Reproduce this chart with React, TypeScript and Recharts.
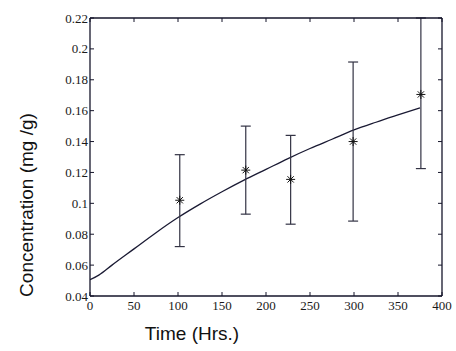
import React from 'react';
import { ComposedChart, XAxis, YAxis, Line, Scatter, ErrorBar } from 'recharts';

// Measured samples (time in hours, concentration in mg/g)
const sampleTimes = [102, 177, 228, 299, 376];
const sampleConc = [0.102, 0.1215, 0.1155, 0.14, 0.1705];
const sampleLow = [0.072, 0.093, 0.0865, 0.0885, 0.1225];
const sampleHigh = [0.1315, 0.15, 0.144, 0.1915, 0.22];

// Model curve
const fitTimes = [0, 10, 25, 50, 75, 100, 125, 150, 175, 200, 225, 250, 275, 300, 325, 350, 375];
const fitConc = [0.0505, 0.0535, 0.06, 0.0705, 0.081, 0.0908, 0.0995, 0.1075, 0.115, 0.122, 0.129, 0.1355, 0.1415, 0.1475, 0.1525, 0.1572, 0.1618];

const xTicks = [0, 50, 100, 150, 200, 250, 300, 350, 400];
const yTicks = [0.04, 0.06, 0.08, 0.1, 0.12, 0.14, 0.16, 0.18, 0.2, 0.22];
const yTickLabels = ['0.04', '0.06', '0.08', '0.1', '0.12', '0.14', '0.16', '0.18', '0.2', '0.22'];

const xTitle = 'Time (Hrs.)';
const yTitle = 'Concentration (mg /g)';

const ink = '#15152a';
const serif = '"Liberation Serif", "Times New Roman", serif';
const sans = '"Liberation Sans", Arial, sans-serif';

const sampleData = sampleTimes.map((t, i) => ({
  x: t,
  y: sampleConc[i],
  err: [sampleConc[i] - sampleLow[i], sampleHigh[i] - sampleConc[i]],
}));
const fitData = fitTimes.map((t, i) => ({ x: t, y: fitConc[i] }));

const yLabelOf = (v: number) => {
  const idx = yTicks.findIndex((t) => Math.abs(t - v) < 1e-9);
  return idx >= 0 ? yTickLabels[idx] : String(v);
};

const LeftTick = (props: any) => {
  const { x, y, payload } = props;
  return (
    <g>
      <line x1={x} y1={y} x2={x + 4} y2={y} stroke={ink} strokeWidth={1} />
      <text x={x - 2} y={y} dy={4.5} textAnchor="end" fontFamily={serif} fontSize={13} fill="#1a1a1a">
        {yLabelOf(payload.value)}
      </text>
    </g>
  );
};

const RightTick = (props: any) => {
  const { x, y } = props;
  return <line x1={x} y1={y} x2={x - 4} y2={y} stroke={ink} strokeWidth={1} />;
};

const BottomTick = (props: any) => {
  const { x, y, payload } = props;
  return (
    <g>
      <line x1={x} y1={y} x2={x} y2={y - 4} stroke={ink} strokeWidth={1} />
      <text x={x} y={y} dy={14} textAnchor="middle" fontFamily={serif} fontSize={13} fill="#1a1a1a">
        {payload.value}
      </text>
    </g>
  );
};

const TopTick = (props: any) => {
  const { x, y } = props;
  return <line x1={x} y1={y} x2={x} y2={y + 4} stroke={ink} strokeWidth={1} />;
};

const Star = (props: any) => {
  const { cx, cy } = props;
  const r = 4.5;
  const d = r * 0.7;
  return (
    <g stroke="#111" strokeWidth={1}>
      <line x1={cx - r} y1={cy} x2={cx + r} y2={cy} />
      <line x1={cx} y1={cy - r} x2={cx} y2={cy + r} />
      <line x1={cx - d} y1={cy - d} x2={cx + d} y2={cy + d} />
      <line x1={cx - d} y1={cy + d} x2={cx + d} y2={cy - d} />
    </g>
  );
};

const XTitle = () => (
  <text x={192} y={340} textAnchor="middle" fontFamily={sans} fontSize={19} fill="#111">
    {xTitle}
  </text>
);

const YTitle = () => (
  <text
    x={33}
    y={205}
    transform="rotate(-90, 33, 205)"
    textAnchor="middle"
    fontFamily={sans}
    fontSize={19}
    fill="#111"
  >
    {yTitle}
  </text>
);

export default function App() {
  return (
    <div style={{ position: 'absolute', left: 0, top: 0, width: 456, height: 351, background: '#fff' }}>
      <ComposedChart width={456} height={351} margin={{ top: 17, right: 13, bottom: 0, left: 0 }}>
        <XAxis
          xAxisId="b"
          dataKey="x"
          type="number"
          domain={[0, 400]}
          ticks={xTicks}
          interval={0}
          height={55}
          tickSize={0}
          tickMargin={0}
          tick={<BottomTick />}
          axisLine={{ stroke: ink, strokeWidth: 1.3 }}
          tickLine={false}
          allowDataOverflow
          label={<XTitle />}
        />
        <XAxis
          xAxisId="t"
          orientation="top"
          dataKey="x"
          type="number"
          domain={[0, 400]}
          ticks={xTicks}
          interval={0}
          height={1}
          tickSize={0}
          tickMargin={0}
          tick={<TopTick />}
          axisLine={{ stroke: ink, strokeWidth: 1.3 }}
          tickLine={false}
          allowDataOverflow
        />
        <YAxis
          yAxisId="l"
          dataKey="y"
          type="number"
          domain={[0.04, 0.22]}
          ticks={yTicks}
          interval={0}
          width={90}
          tickSize={0}
          tickMargin={0}
          tick={<LeftTick />}
          axisLine={{ stroke: ink, strokeWidth: 1.3 }}
          tickLine={false}
          allowDataOverflow
          label={<YTitle />}
        />
        <YAxis
          yAxisId="r"
          orientation="right"
          dataKey="y"
          type="number"
          domain={[0.04, 0.22]}
          ticks={yTicks}
          interval={0}
          width={1}
          tickSize={0}
          tickMargin={0}
          tick={<RightTick />}
          axisLine={{ stroke: ink, strokeWidth: 1.3 }}
          tickLine={false}
          allowDataOverflow
        />
        {/* invisible series binding the top/right frame axes so they render */}
        <Line
          xAxisId="t"
          yAxisId="r"
          data={fitData}
          dataKey="y"
          stroke="none"
          dot={false}
          activeDot={false}
          legendType="none"
          isAnimationActive={false}
        />
        <Line
          xAxisId="b"
          yAxisId="l"
          data={fitData}
          dataKey="y"
          type="monotone"
          stroke="#1a1a33"
          strokeWidth={1.3}
          dot={false}
          activeDot={false}
          isAnimationActive={false}
        />
        <Scatter
          xAxisId="b"
          yAxisId="l"
          data={sampleData}
          dataKey="y"
          shape={<Star />}
          isAnimationActive={false}
        >
          <ErrorBar dataKey="err" direction="y" width={5} stroke="#333344" strokeWidth={1.2} />
        </Scatter>
      </ComposedChart>
    </div>
  );
}
